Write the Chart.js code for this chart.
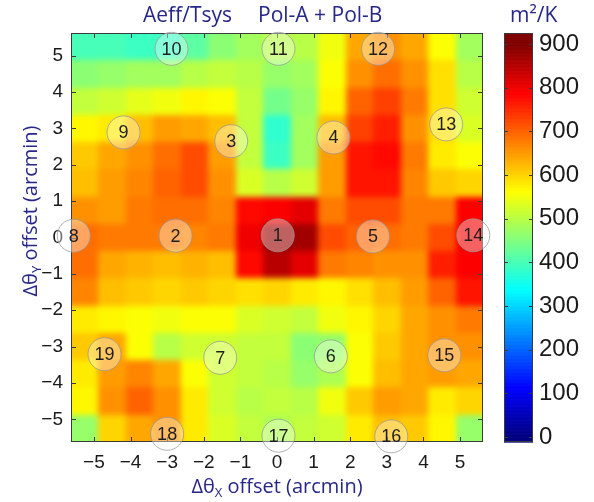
<!DOCTYPE html>
<html>
<head>
<meta charset="utf-8">
<script src="https://cdn.jsdelivr.net/npm/chart.js@4/dist/chart.umd.min.js"></script>
<style>
  html, body { margin: 0; padding: 0; background: #ffffff; }
  #wrap { width: 594px; height: 502px; }
</style>
</head>
<body>
<div id="wrap"><canvas id="chart" width="594" height="502"></canvas></div>
<script>
// Grid of measured Aeff/Tsys (m^2/K), 0.75 arcmin spacing
const xCenters = [-5.25, -4.5, -3.75, -3, -2.25, -1.5, -0.75, 0, 0.75, 1.5, 2.25, 3, 3.75, 4.5, 5.25];
const yCenters = [5.25, 4.5, 3.75, 3, 2.25, 1.5, 0.75, 0, -0.75, -1.5, -2.25, -3, -3.75, -4.5, -5.25];
const cellSize = 0.75;

// one row per yCenters entry, one column per xCenters entry
const aeffTsys = [
  [400, 400, 390, 390, 420, 460, 480, 500, 500, 550, 640, 660, 640, 560, 480],
  [460, 470, 480, 480, 500, 510, 500, 470, 480, 560, 660, 690, 660, 590, 500],
  [510, 520, 540, 550, 570, 560, 510, 440, 470, 570, 700, 730, 680, 590, 520],
  [570, 580, 620, 650, 640, 620, 510, 380, 480, 620, 730, 760, 660, 590, 530],
  [610, 640, 660, 690, 720, 650, 510, 390, 480, 650, 770, 780, 680, 580, 560],
  [620, 650, 670, 700, 720, 660, 530, 500, 520, 650, 770, 770, 670, 610, 600],
  [660, 650, 680, 690, 690, 670, 780, 790, 810, 680, 720, 720, 680, 680, 790],
  [690, 680, 680, 680, 670, 680, 800, 880, 870, 720, 700, 690, 680, 720, 800],
  [690, 640, 630, 620, 630, 620, 780, 850, 810, 680, 670, 660, 660, 760, 790],
  [670, 620, 610, 600, 610, 600, 590, 600, 580, 570, 590, 620, 650, 700, 770],
  [580, 570, 560, 550, 560, 560, 530, 520, 510, 550, 570, 600, 640, 660, 680],
  [610, 640, 560, 500, 520, 520, 510, 510, 460, 470, 560, 610, 640, 660, 660],
  [580, 650, 670, 640, 560, 520, 510, 500, 470, 490, 560, 620, 640, 650, 640],
  [570, 660, 700, 660, 580, 520, 500, 510, 500, 550, 610, 650, 640, 580, 600],
  [470, 600, 640, 660, 580, 530, 510, 490, 510, 520, 580, 620, 610, 570, 470]
];

// Beam positions (arcmin)
const beamLabels = ['1','2','3','4','5','6','7','8','9','10','11','12','13','14','15','16','17','18','19'];
const beamX = [0.02, -2.77, -1.25, 1.54, 2.62, 1.47, -1.55, -5.55, -4.19, -2.88, 0.04, 2.76, 4.62, 5.36, 4.57, 3.12, 0.04, -3.0, -4.71];
const beamY = [0.06, 0.05, 2.65, 2.75, 0.03, -3.27, -3.31, 0.05, 2.89, 5.19, 5.19, 5.19, 3.11, 0.06, -3.24, -5.47, -5.45, -5.4, -3.21];

const axisTicks = [-5, -4, -3, -2, -1, 0, 1, 2, 3, 4, 5];
const colorTicks = [0, 100, 200, 300, 400, 500, 600, 700, 800, 900];
const colorMin = 0, colorMax = 900;

const NAVY = '#27278a';
const TICK_FONT = 'Liberation Sans, Arial, sans-serif';
const LABEL_FONT = '"Open Sans", Lato, sans-serif';

function jetRGB(v) {
  const t = Math.min(1, Math.max(0, (v - colorMin) / (colorMax - colorMin)));
  const f = a => Math.round(255 * Math.min(1, Math.max(0, 1.5 - Math.abs(4 * t - a))));
  return [f(3), f(2), f(1)];
}
const jet = v => `rgb(${jetRGB(v).join(',')})`;

// separable box blur on RGB channels, edges clamped
function boxBlur(px, w, h, r, passes) {
  const n = 2 * r + 1;
  let src = new Float32Array(px.length);
  for (let i = 0; i < px.length; i++) src[i] = px[i];
  let dst = new Float32Array(px.length);
  for (let p = 0; p < passes; p++) {
    for (const horizontal of [true, false]) {
      const lines = horizontal ? h : w, len = horizontal ? w : h;
      for (let line = 0; line < lines; line++) {
        const idx = k => {
          const kk = k < 0 ? 0 : (k >= len ? len - 1 : k);
          return horizontal ? (line * w + kk) * 4 : (kk * w + line) * 4;
        };
        for (let c = 0; c < 3; c++) {
          let sum = 0;
          for (let k = -r; k <= r; k++) sum += src[idx(k) + c];
          for (let i = 0; i < len; i++) {
            dst[idx(i) + c] = sum / n;
            sum += src[idx(i + r + 1) + c] - src[idx(i - r) + c];
          }
        }
      }
      const t = src; src = dst; dst = t;
    }
  }
  for (let i = 0; i < px.length; i++) if ((i & 3) !== 3) px[i] = Math.round(src[i]);
}

// Heatmap cells, drawn through the x/y scales
const heatmapPlugin = {
  id: 'heatmap',
  beforeDatasetsDraw(chart) {
    const { ctx, chartArea: a, scales: { x, y } } = chart;
    const m = 12;
    const ox = Math.round(a.left) - m, oy = Math.round(a.top) - m;
    const W = Math.round(a.right - a.left) + 2 * m, H = Math.round(a.bottom - a.top) + 2 * m;
    const off = document.createElement('canvas');
    off.width = W; off.height = H;
    const octx = off.getContext('2d');
    yCenters.forEach((yc, r) => {
      xCenters.forEach((xc, c) => {
        let x0 = Math.round(x.getPixelForValue(xc - cellSize / 2) - ox);
        let x1 = Math.round(x.getPixelForValue(xc + cellSize / 2) - ox);
        let y0 = Math.round(y.getPixelForValue(yc + cellSize / 2) - oy);
        let y1 = Math.round(y.getPixelForValue(yc - cellSize / 2) - oy);
        if (c === 0) x0 = 0;
        if (c === xCenters.length - 1) x1 = W;
        if (r === 0) y0 = 0;
        if (r === yCenters.length - 1) y1 = H;
        octx.fillStyle = jet(aeffTsys[r][c]);
        octx.fillRect(x0, y0, x1 - x0, y1 - y0);
      });
    });
    const img = octx.getImageData(0, 0, W, H);
    boxBlur(img.data, W, H, 3, 2);
    octx.putImageData(img, 0, 0);

    ctx.save();
    ctx.beginPath();
    ctx.rect(a.left, a.top, a.right - a.left, a.bottom - a.top);
    ctx.clip();
    ctx.drawImage(off, ox, oy);
    ctx.restore();

    // frame with inward tick marks
    ctx.save();
    ctx.strokeStyle = '#3a3a3a';
    ctx.lineWidth = 1;
    ctx.strokeRect(a.left + 0.5, a.top + 0.5, a.right - a.left - 1, a.bottom - a.top - 1);
    const tl = 5;
    ctx.beginPath();
    axisTicks.forEach(v => {
      const px = Math.round(x.getPixelForValue(v)) + 0.5;
      ctx.moveTo(px, a.bottom); ctx.lineTo(px, a.bottom - tl);
      ctx.moveTo(px, a.top); ctx.lineTo(px, a.top + tl);
      const py = Math.round(y.getPixelForValue(v)) + 0.5;
      ctx.moveTo(a.left, py); ctx.lineTo(a.left + tl, py);
      ctx.moveTo(a.right, py); ctx.lineTo(a.right - tl, py);
    });
    ctx.stroke();
    ctx.restore();
  }
};

// Beam numbers, colour bar along the "cb" scale, titles
const decorPlugin = {
  id: 'decor',
  afterDatasetsDraw(chart) {
    const { ctx } = chart;
    const meta = chart.getDatasetMeta(0);
    ctx.save();
    ctx.fillStyle = '#1e1e1e';
    ctx.font = '18px ' + TICK_FONT;
    ctx.textAlign = 'center';
    ctx.textBaseline = 'middle';
    meta.data.forEach((pt, i) => {
      ctx.fillText(beamLabels[i], pt.x, pt.y + 1);
    });
    ctx.restore();
  },
  afterDraw(chart) {
    const { ctx, chartArea: a, scales: { cb } } = chart;
    ctx.save();
    const bx0 = cb.left + 21, bw = 29;
    const step = 1;
    for (let v = cb.min; v < cb.max; v += step) {
      const y0 = cb.getPixelForValue(Math.min(cb.max, v + step));
      const y1 = cb.getPixelForValue(v);
      ctx.fillStyle = jet(v + step / 2);
      ctx.fillRect(bx0, y0, bw, y1 - y0 + 0.6);
    }
    ctx.strokeStyle = '#3a3a3a';
    ctx.lineWidth = 1;
    const top = cb.getPixelForValue(cb.max), bot = cb.getPixelForValue(cb.min);
    ctx.strokeRect(bx0 + 0.5, Math.round(top) + 0.5, bw - 1, Math.round(bot - top) - 1);
    ctx.beginPath();
    colorTicks.forEach(v => {
      const py = Math.round(cb.getPixelForValue(v)) + 0.5;
      ctx.moveTo(bx0, py); ctx.lineTo(bx0 + 4, py);
      ctx.moveTo(bx0 + bw, py); ctx.lineTo(bx0 + bw - 4, py);
    });
    ctx.stroke();

    // unit label
    ctx.fillStyle = NAVY;
    ctx.font = '21px ' + LABEL_FONT;
    ctx.textAlign = 'left';
    ctx.textBaseline = 'middle';
    ctx.fillText('m²/K', cb.left + 27, 16);

    // title
    const cx = (a.left + a.right) / 2;
    ctx.font = '21px ' + LABEL_FONT;
    ctx.textAlign = 'right';
    ctx.fillText('Aeff/Tsys', cx - 45, 16);
    ctx.textAlign = 'left';
    ctx.fillText('Pol-A + Pol-B', cx - 19, 16);

    // axis titles with subscripts
    function drawSubLabel(x0, y0, parts) {
      const bigF = '20px ' + LABEL_FONT, subF = '13px ' + LABEL_FONT;
      ctx.font = bigF;
      const big = ctx.measureText(parts[0]).width;
      const rest = ctx.measureText(parts[2]).width;
      ctx.font = subF;
      const sub = ctx.measureText(parts[1]).width;
      let sx = x0 - (big + sub + rest) / 2;
      ctx.textAlign = 'left';
      ctx.textBaseline = 'middle';
      ctx.font = bigF;
      ctx.fillText(parts[0], sx, y0);
      sx += big;
      ctx.font = subF;
      ctx.fillText(parts[1], sx, y0 + 6);
      sx += sub;
      ctx.font = bigF;
      ctx.fillText(parts[2], sx, y0);
    }
    drawSubLabel(cx, 487, ['Δθ', 'X', ' offset (arcmin)']);
    ctx.translate(31, 211);
    ctx.rotate(-Math.PI / 2);
    drawSubLabel(0, 0, ['Δθ', 'Y', ' offset (arcmin)']);
    ctx.restore();
  }
};

const setTicks = list => scale => { scale.ticks = list.map(v => ({ value: v })); };
const minusSign = v => String(v).replace('-', '\u2212');
// fixed axis sizes; label overhang is handled by the fixed margins
const fixSize = (w, h) => s => {
  if (w !== null) s.width = w;
  if (h !== null) s.height = h;
  s.paddingTop = 0; s.paddingBottom = 0; s.paddingLeft = 0; s.paddingRight = 0;
};

new Chart(document.getElementById('chart'), {
  type: 'scatter',
  data: {
    datasets: [{
      label: 'beams',
      data: beamX.map((bx, i) => ({ x: bx, y: beamY[i] })),
      pointRadius: 16.5,
      pointBackgroundColor: 'rgba(255,255,255,0.38)',
      pointBorderColor: 'rgba(150,150,150,0.75)',
      pointBorderWidth: 1,
      clip: false
    }]
  },
  options: {
    responsive: false,
    animation: false,
    events: [],
    layout: { autoPadding: false, padding: { top: 33, left: 0, right: 0, bottom: 0 } },
    plugins: { legend: { display: false }, title: { display: false }, tooltip: { enabled: false } },
    scales: {
      x: {
        type: 'linear', position: 'bottom',
        min: -5.625, max: 5.625,
        afterBuildTicks: setTicks(axisTicks),
        afterFit: fixSize(null, 60),
        grid: { display: false, drawTicks: false },
        border: { display: false },
        ticks: { color: '#1a1a1a', font: { family: TICK_FONT, size: 19 }, padding: 9, callback: minusSign }
      },
      y: {
        type: 'linear', position: 'left',
        min: -5.625, max: 5.625,
        afterBuildTicks: setTicks(axisTicks),
        afterFit: fixSize(71, null),
        grid: { display: false, drawTicks: false },
        border: { display: false },
        ticks: { color: '#1a1a1a', font: { family: TICK_FONT, size: 19 }, padding: 8, callback: minusSign }
      },
      cb: {
        type: 'linear', position: 'right',
        min: -11.5, max: 925,
        afterBuildTicks: setTicks(colorTicks),
        afterFit: fixSize(111, null),
        grid: { display: false, drawTicks: false },
        border: { display: false },
        ticks: { color: '#1a1a1a', font: { family: TICK_FONT, size: 24 }, padding: 56 }
      }
    }
  },
  plugins: [heatmapPlugin, decorPlugin]
});
</script>
</body>
</html>
